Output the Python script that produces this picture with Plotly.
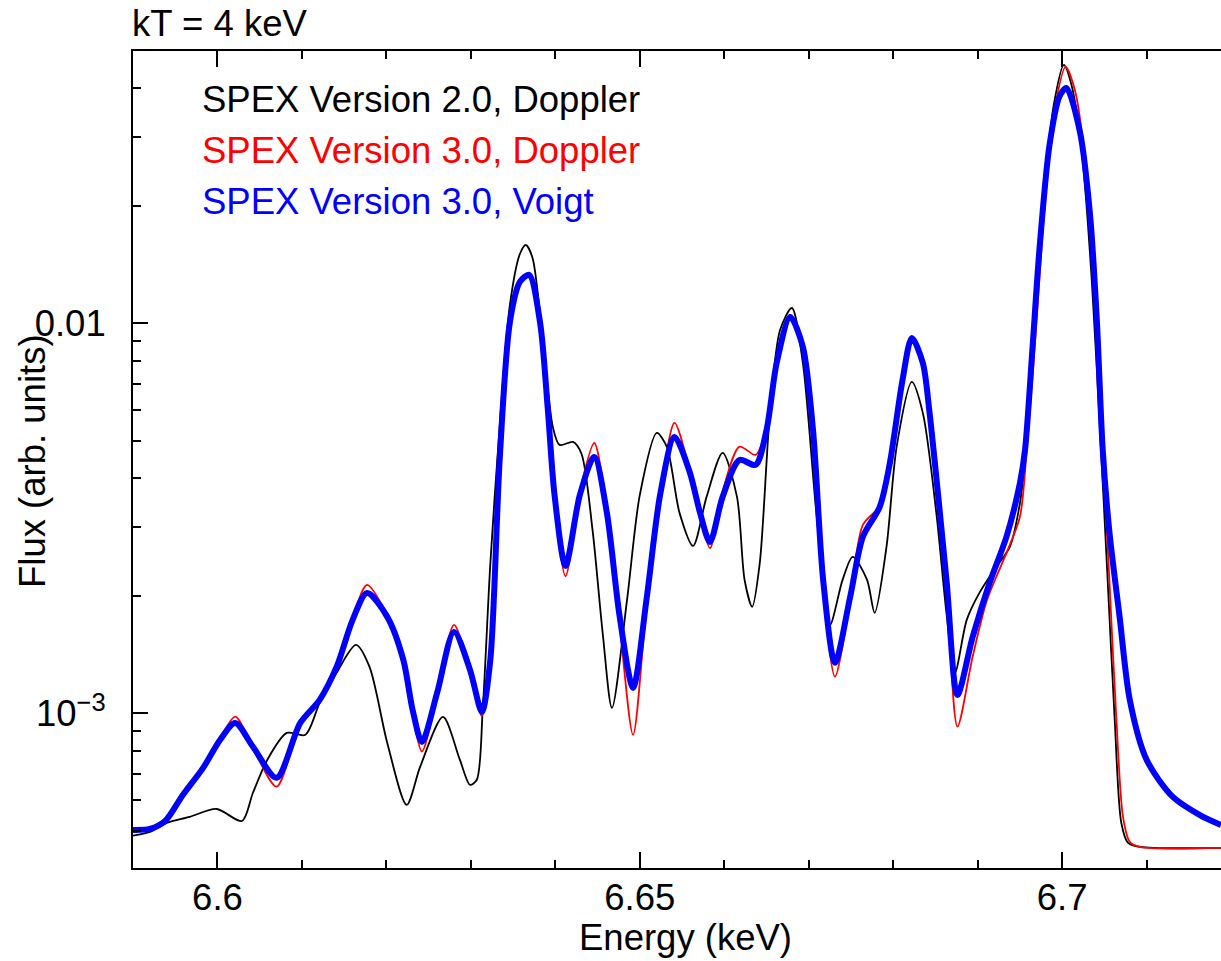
import math
import plotly.graph_objects as go

# ---------------- data ----------------
# SPEX Version 2.0, Doppler (black)
e_v2 = [6.5900, 6.5920, 6.5940, 6.5967, 6.5999, 6.6029, 6.6042, 6.6059, 6.6082, 6.6104,
        6.6121, 6.6141, 6.6164, 6.6180, 6.6201, 6.6224, 6.6240, 6.6267, 6.6287, 6.6299,
        6.6307, 6.6314, 6.6323, 6.6334, 6.6346, 6.6358, 6.6365, 6.6373, 6.6385, 6.6397,
        6.6405, 6.6421, 6.6431, 6.6444, 6.6456, 6.6467, 6.6485, 6.6500, 6.6520, 6.6532,
        6.6547, 6.6563, 6.6579, 6.6598, 6.6615, 6.6624, 6.6633, 6.6642, 6.6654, 6.6666,
        6.6680, 6.6693, 6.6709, 6.6725, 6.6740, 6.6752, 6.6769, 6.6778, 6.6792, 6.6804,
        6.6822, 6.6835, 6.6851, 6.6863, 6.6873, 6.6887, 6.6902, 6.6922, 6.6938, 6.6950,
        6.6957, 6.6966, 6.6978, 6.6990, 6.7002, 6.7011, 6.7023, 6.7035, 6.7046, 6.7054,
        6.7062, 6.7070, 6.7078, 6.7092, 6.7188]
f_v2 = [4.85e-4, 4.96e-4, 5.23e-4, 5.42e-4, 5.68e-4, 5.29e-4, 6.25e-4, 7.59e-4, 8.90e-4, 8.80e-4,
        1.063e-3, 1.269e-3, 1.496e-3, 1.314e-3, 8.39e-4, 5.82e-4, 7.29e-4, 9.78e-4, 7.59e-4, 6.55e-4,
        6.75e-4, 1.020e-3, 2.414e-3, 5.42e-3, 1.108e-2, 1.505e-2, 1.587e-2, 1.470e-2, 9.06e-3, 5.42e-3,
        4.875e-3, 4.96e-3, 4.62e-3, 2.951e-3, 1.607e-3, 1.032e-3, 1.964e-3, 3.628e-3, 5.233e-3, 4.817e-3,
        3.263e-3, 2.685e-3, 3.586e-3, 4.650e-3, 3.586e-3, 2.197e-3, 1.874e-3, 2.428e-3, 5.89e-3, 9.61e-3,
        1.094e-2, 7.91e-3, 3.263e-3, 1.684e-3, 2.197e-3, 2.518e-3, 2.197e-3, 1.808e-3, 2.669e-3, 4.817e-3,
        7.07e-3, 5.89e-3, 3.263e-3, 1.808e-3, 1.269e-3, 1.735e-3, 2.034e-3, 2.372e-3, 2.669e-3, 3.461e-3,
        4.732e-3, 9.61e-3, 2.071e-2, 3.628e-2, 4.596e-2, 4.083e-2, 2.782e-2, 1.291e-2, 4.732e-3, 2.158e-3,
        9.78e-4, 5.23e-4, 4.65e-4, 4.54e-4, 4.514e-4]

# SPEX Version 3.0, Doppler (red)
e_v3d = [6.5900, 6.5920, 6.5938, 6.5959, 6.5983, 6.6003, 6.6021, 6.6042, 6.6070, 6.6098,
         6.6121, 6.6141, 6.6160, 6.6177, 6.6201, 6.6220, 6.6231, 6.6242, 6.6260, 6.6280,
         6.6299, 6.6313, 6.6323, 6.6334, 6.6346, 6.6358, 6.6369, 6.6382, 6.6391, 6.6399,
         6.6412, 6.6429, 6.6446, 6.6461, 6.6476, 6.6492, 6.6508, 6.6524, 6.6541, 6.6559,
         6.6571, 6.6583, 6.6598, 6.6618, 6.6637, 6.6650, 6.6662, 6.6678, 6.6693, 6.6705,
         6.6717, 6.6731, 6.6749, 6.6764, 6.6784, 6.6796, 6.6811, 6.6822, 6.6835, 6.6843,
         6.6863, 6.6876, 6.6894, 6.6911, 6.6934, 6.6950, 6.6958, 6.6968, 6.6979, 6.6991,
         6.7004, 6.7015, 6.7027, 6.7038, 6.7048, 6.7056, 6.7064, 6.7072, 6.7080, 6.7092,
         6.7188]
f_v3d = [5.00e-4, 5.03e-4, 5.25e-4, 6.15e-4, 7.24e-4, 8.60e-4, 9.80e-4, 8.15e-4, 6.48e-4, 9.44e-4,
         1.082e-3, 1.314e-3, 1.75e-3, 2.133e-3, 1.78e-3, 1.36e-3, 9.9e-4, 7.97e-4, 1.11e-3, 1.684e-3,
         1.28e-3, 9.84e-4, 1.37e-3, 4.435e-3, 1.0e-2, 1.28e-2, 1.34e-2, 1.0e-2, 6.0e-3, 3.55e-3,
         2.244e-3, 3.70e-3, 4.93e-3, 3.3e-3, 1.70e-3, 8.80e-4, 1.9e-3, 3.6e-3, 5.55e-3, 4.2e-3,
         3.25e-3, 2.649e-3, 3.7e-3, 4.826e-3, 4.595e-3, 5.4e-3, 7.9e-3, 1.05e-2, 8.7e-3, 5.3e-3,
         2.1e-3, 1.241e-3, 1.95e-3, 3.039e-3, 3.4e-3, 4.4e-3, 7.16e-3, 9.2e-3, 7.9e-3, 5.85e-3,
         2.1e-3, 9.24e-4, 1.397e-3, 1.952e-3, 2.576e-3, 3.192e-3, 4.732e-3, 9.06e-3, 1.952e-2, 3.523e-2,
         4.542e-2, 3.964e-2, 2.622e-2, 1.217e-2, 4.732e-3, 2.158e-3, 9.78e-4, 5.42e-4, 4.677e-4, 4.54e-4,
         4.514e-4]

# SPEX Version 3.0, Voigt (blue)
e_v3v = [6.5900, 6.5920, 6.5938, 6.5959, 6.5983, 6.6003, 6.6021, 6.6042, 6.6070, 6.6098,
         6.6121, 6.6141, 6.6160, 6.6177, 6.6201, 6.6220, 6.6231, 6.6242, 6.6260, 6.6280,
         6.6299, 6.6313, 6.6323, 6.6334, 6.6346, 6.6358, 6.6369, 6.6382, 6.6391, 6.6399,
         6.6412, 6.6429, 6.6446, 6.6461, 6.6476, 6.6492, 6.6508, 6.6524, 6.6541, 6.6559,
         6.6571, 6.6583, 6.6598, 6.6618, 6.6637, 6.6650, 6.6662, 6.6678, 6.6693, 6.6705,
         6.6717, 6.6731, 6.6749, 6.6764, 6.6784, 6.6796, 6.6811, 6.6822, 6.6835, 6.6843,
         6.6863, 6.6876, 6.6894, 6.6914, 6.6934, 6.6950, 6.6956, 6.6965, 6.6973, 6.6985,
         6.6997, 6.7005, 6.7021, 6.7033, 6.7041, 6.7048, 6.7056, 6.7068, 6.7080, 6.7100,
         6.7131, 6.7163, 6.7188]
f_v3v = [5.02e-4, 5.05e-4, 5.29e-4, 6.17e-4, 7.24e-4, 8.54e-4, 9.44e-4, 8.20e-4, 6.83e-4, 9.44e-4,
         1.082e-3, 1.314e-3, 1.735e-3, 2.034e-3, 1.766e-3, 1.370e-3, 1.020e-3, 8.44e-4, 1.127e-3, 1.616e-3,
         1.291e-3, 1.008e-3, 1.370e-3, 4.435e-3, 1.0e-2, 1.276e-2, 1.330e-2, 1.0e-2, 6.03e-3, 3.628e-3,
         2.386e-3, 3.628e-3, 4.541e-3, 3.263e-3, 1.776e-3, 1.161e-3, 1.964e-3, 3.628e-3, 5.11e-3, 4.156e-3,
         3.282e-3, 2.749e-3, 3.586e-3, 4.461e-3, 4.332e-3, 5.326e-3, 7.91e-3, 1.038e-2, 8.70e-3, 5.326e-3,
         2.197e-3, 1.346e-3, 1.987e-3, 2.832e-3, 3.381e-3, 4.383e-3, 7.157e-3, 9.17e-3, 7.91e-3, 5.89e-3,
         2.197e-3, 1.114e-3, 1.569e-3, 2.158e-3, 2.832e-3, 3.895e-3, 4.732e-3, 8.74e-3, 1.541e-2, 2.866e-2,
         3.826e-2, 4.011e-2, 3.094e-2, 1.895e-2, 1.020e-2, 4.732e-3, 2.900e-3, 1.766e-3, 1.082e-3, 7.59e-4,
         6.10e-4, 5.48e-4, 5.17e-4]

series_names = ["SPEX Version 2.0, Doppler", "SPEX Version 3.0, Doppler", "SPEX Version 3.0, Voigt"]
title_text = "kT = 4 keV"
x_title = "Energy (keV)"
y_title = "Flux (arb. units)"

x_major = [6.6, 6.65, 6.7]
x_major_text = ["6.6", "6.65", "6.7"]
x_minor = [6.59, 6.61, 6.62, 6.63, 6.64, 6.66, 6.67, 6.68, 6.69, 6.71]
y_major = [0.001, 0.01]
y_major_text = ["10<sup>\u22123</sup>", "0.01"]
y_minor = [4e-4, 5e-4, 6e-4, 7e-4, 8e-4, 9e-4, 2e-3, 3e-3, 4e-3, 5e-3, 6e-3, 7e-3, 8e-3, 9e-3,
           2e-2, 3e-2, 4e-2]

# ---------------- figure ----------------
FONT = "Liberation Sans, Arial, Helvetica, sans-serif"
FS = 36.5

fig = go.Figure()
fig.add_trace(go.Scatter(x=e_v2, y=f_v2, mode="lines", name=series_names[0],
                         line=dict(color="#000000", width=1.8, shape="spline", smoothing=0.8)))
fig.add_trace(go.Scatter(x=e_v3d, y=f_v3d, mode="lines", name=series_names[1],
                         line=dict(color="#ff0000", width=1.8, shape="spline", smoothing=0.8)))
fig.add_trace(go.Scatter(x=e_v3v, y=f_v3v, mode="lines", name=series_names[2],
                         line=dict(color="#0000ff", width=6, shape="spline", smoothing=0.8)))

W, H = 1221, 961
L, R, T, B = 133, 0, 51, 93
pw, ph = W - L - R, H - T - B

def px(xp):
    return (xp - L) / pw

def py(yp):
    return (H - B - yp) / ph

fig.update_layout(
    width=W, height=H,
    margin=dict(l=L, r=R, t=T, b=B, pad=0),
    paper_bgcolor="white", plot_bgcolor="white",
    showlegend=False,
    font=dict(family=FONT, size=FS, color="black"),
    xaxis=dict(range=[6.5900, 6.7188], showgrid=False, zeroline=False,
               showline=True, linecolor="black", linewidth=2, mirror="ticks",
               ticks="inside", ticklen=16, tickwidth=2, tickcolor="black",
               tickmode="array", tickvals=x_major, ticktext=x_major_text,
               ticklabelstandoff=-4,
               tickfont=dict(family=FONT, size=FS, color="black"),
               minor=dict(tickmode="array", tickvals=x_minor, ticks="inside",
                          ticklen=8, tickwidth=2, tickcolor="black", showgrid=False)),
    yaxis=dict(type="log", range=[-3.397, -1.302], showgrid=False, zeroline=False,
               showline=True, linecolor="black", linewidth=2, mirror=False,
               ticks="inside", ticklen=15, tickwidth=2, tickcolor="black",
               tickmode="array", tickvals=y_major, ticktext=y_major_text,
               ticklabelstandoff=18,
               tickfont=dict(family=FONT, size=FS, color="black"),
               minor=dict(tickmode="array", tickvals=y_minor, ticks="inside",
                          ticklen=8, tickwidth=2, tickcolor="black", showgrid=False)),
)

# right-hand frame ticks (frame lies just beyond the visible page)
for v in y_major:
    fig.add_shape(type="line", xref="paper", yref="y", x0=px(1213), x1=1.0,
                  y0=math.log10(v), y1=math.log10(v), line=dict(color="black", width=2))

ann = []
ann.append(dict(text=title_text, x=px(130), y=py(24), xanchor="left", yanchor="middle"))
colors = ["#000000", "#ff0000", "#0000ff"]
for name, c, yy in zip(series_names, colors, [100, 151, 201]):
    ann.append(dict(text=name, x=px(200), y=py(yy), xanchor="left", yanchor="middle",
                    font=dict(family=FONT, size=FS, color=c)))
ann.append(dict(text=x_title, x=px(685), y=py(937), xanchor="center", yanchor="middle"))
ann.append(dict(text=y_title, x=px(32), y=py(461), xanchor="center", yanchor="middle",
                textangle=-90))
for a in ann:
    a.setdefault("font", dict(family=FONT, size=FS, color="black"))
    fig.add_annotation(xref="paper", yref="paper", showarrow=False, **a)

fig.write_html("out.html", config={"displayModeBar": False, "staticPlot": True})

# remove the browser's default page margin so the figure sits at the window corner
with open("out.html", "r", encoding="utf-8") as fh:
    html = fh.read()
html = html.replace("<head>", "<head><style>html,body{margin:0;padding:0;overflow:hidden;}</style>", 1)
with open("out.html", "w", encoding="utf-8") as fh:
    fh.write(html)
